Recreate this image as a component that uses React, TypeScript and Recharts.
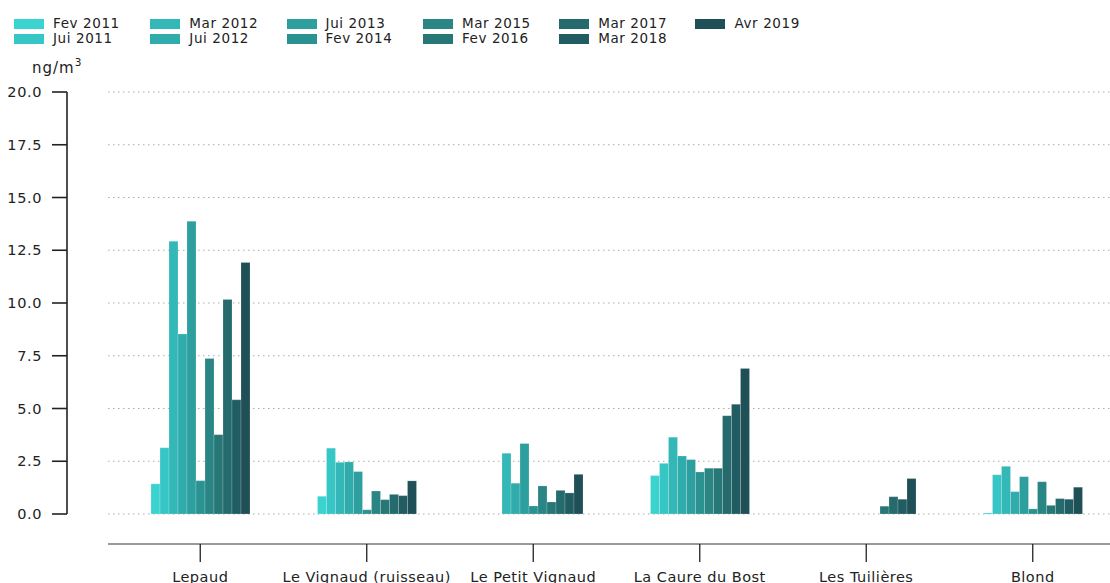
import { Bar, BarChart, CartesianGrid, XAxis, YAxis } from 'recharts'

const sites = ['Lepaud', 'Le Vignaud (ruisseau)', 'Le Petit Vignaud', 'La Caure du Bost', 'Les Tuilières', 'Blond']

const campaigns = [
  'Fev 2011', 'Jui 2011', 'Mar 2012', 'Jui 2012', 'Jui 2013', 'Fev 2014',
  'Mar 2015', 'Fev 2016', 'Mar 2017', 'Mar 2018', 'Avr 2019',
]

const colors = [
  '#3ad3cf', '#36c6c5', '#33b8b7', '#31acad', '#2e9f9f', '#2b9292',
  '#2a8585', '#287777', '#256a6d', '#225c63', '#1f4f57',
]

// one array per campaign, values per site (null = no measure)
const fev2011 = [1.43, 0.84, null, 1.82, null, 0.05]
const jui2011 = [3.14, 3.12, null, 2.4, null, 1.86]
const mar2012 = [12.93, 2.45, 2.88, 3.64, null, 2.26]
const jui2012 = [8.53, 2.47, 1.46, 2.75, null, 1.06]
const jui2013 = [13.88, 2.01, 3.34, 2.58, null, 1.77]
const fev2014 = [1.58, 0.2, 0.38, 1.99, null, 0.24]
const mar2015 = [7.37, 1.09, 1.33, 2.17, null, 1.53]
const fev2016 = [3.76, 0.68, 0.57, 2.17, 0.37, 0.41]
const mar2017 = [10.17, 0.93, 1.12, 4.66, 0.82, 0.73]
const mar2018 = [5.41, 0.87, 1.0, 5.2, 0.7, 0.7]
const avr2019 = [11.92, 1.57, 1.88, 6.89, 1.68, 1.27]

const yTicks = [0, 2.5, 5, 7.5, 10, 12.5, 15, 17.5, 20]

const series = [fev2011, jui2011, mar2012, jui2012, jui2013, fev2014, mar2015, fev2016, mar2017, mar2018, avr2019]

const chartData = sites.map((name, i) => {
  const row: Record<string, string | number | null> = { name }
  campaigns.forEach((c, j) => {
    row[c] = series[j][i]
  })
  return row
})

const font = 'DejaVu Sans, sans-serif'

export default function App() {
  return (
    <div
      style={{
        position: 'absolute',
        left: 0,
        top: 0,
        width: 1110,
        height: 583,
        overflow: 'hidden',
        background: '#fff',
        fontFamily: font,
      }}
    >
      <div
        style={{
          position: 'absolute',
          left: 14,
          top: 16,
          display: 'grid',
          gridAutoFlow: 'column',
          gridTemplateRows: 'repeat(2, 15px)',
          gridAutoColumns: '136.3px',
          fontSize: 13.5,
          letterSpacing: 0.6,
          color: '#222',
        }}
      >
        {campaigns.map((c, i) => (
          <div key={c} style={{ display: 'flex', alignItems: 'center', whiteSpace: 'nowrap', lineHeight: '15px' }}>
            <span style={{ display: 'inline-block', width: 30, height: 10, background: colors[i], marginRight: 9 }} />
            {c}
          </div>
        ))}
      </div>
      <div style={{ position: 'absolute', left: 32, top: 59, fontSize: 15, letterSpacing: 1, color: '#222' }}>
        ng/m<sup style={{ fontSize: 10.5, verticalAlign: 'top', position: 'relative', top: -3 }}>3</sup>
      </div>
      <div style={{ position: 'absolute', left: 0, top: 0 }}>
        <BarChart
          width={1130}
          height={600}
          data={chartData}
          margin={{ top: 92, right: 10, bottom: 16, left: 0 }}
          barGap={0}
          barSize={9}
        >
          <CartesianGrid
            horizontal
            vertical={false}
            stroke="#aaa"
            strokeDasharray="1.5 3.5"
            xAxisId="b"
            yAxisId="b"
          />
          <XAxis xAxisId="a" dataKey="name" height={30} tick={false} tickLine={false} axisLine={false} />
          <XAxis
            xAxisId="b"
            dataKey="name"
            height={40}
            padding={{ left: 9, right: 4 }}
            axisLine={{ stroke: '#777', strokeWidth: 1.6 }}
            tickLine={{ stroke: '#222', strokeWidth: 1.3 }}
            tickSize={18}
            tickMargin={10}
            interval={0}
            tick={{ fill: '#222', fontSize: 14.5, letterSpacing: 0.5, fontFamily: font }}
          />
          <YAxis yAxisId="a" width={41} domain={[0, 20]} tick={false} tickLine={false} axisLine={false} />
          <YAxis
            yAxisId="b"
            width={67}
            domain={[0, 20]}
            ticks={yTicks}
            interval={0}
            tickFormatter={(v) => Number(v).toFixed(1)}
            axisLine={{ stroke: '#222', strokeWidth: 1.6 }}
            tickLine={{ stroke: '#222', strokeWidth: 1.6 }}
            tickSize={15}
            tickMargin={10}
            tick={{ fill: '#222', fontSize: 14.5, letterSpacing: 0.6, fontFamily: font }}
          />
          {campaigns.map((c, i) => (
            <Bar
              key={c}
              dataKey={c}
              xAxisId="b"
              yAxisId="b"
              fill={colors[i]}
              stroke="#ffffff"
              strokeOpacity={0.3}
              strokeWidth={0.6}
              isAnimationActive={false}
            />
          ))}
        </BarChart>
      </div>
    </div>
  )
}
